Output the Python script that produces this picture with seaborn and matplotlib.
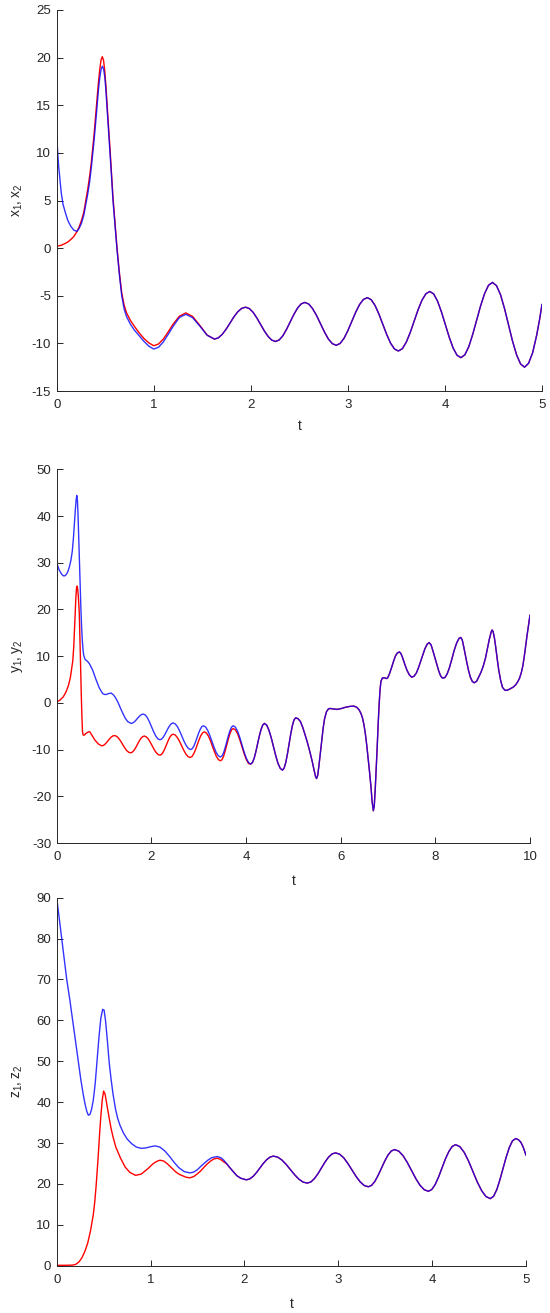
import matplotlib
matplotlib.use('Agg')
import matplotlib.pyplot as plt
import seaborn as sns

# ---- panel 1: x1 (red), x2 (blue) ----
t_x_early = [0, 0.01, 0.02, 0.035, 0.047, 0.065, 0.09, 0.115, 0.145, 0.175, 0.207, 0.23, 0.255, 0.28,
             0.3, 0.32, 0.34, 0.357, 0.372, 0.385, 0.395, 0.406, 0.417, 0.43, 0.445, 0.458, 0.47,
             0.483, 0.495, 0.506, 0.517, 0.533, 0.55, 0.565, 0.58, 0.6, 0.62, 0.645, 0.67, 0.695,
             0.72, 0.76, 0.8, 0.85, 0.9, 0.95, 1.0, 1.05, 1.1, 1.15, 1.2, 1.265, 1.33, 1.4, 1.48, 1.55]
x1_early = [0.2, 0.22, 0.25, 0.28, 0.3, 0.38, 0.5, 0.65, 0.9, 1.2, 1.7, 2.2, 2.9, 3.8,
            5.0, 6.2, 7.6, 9.0, 10.6, 11.9, 13.2, 14.5, 15.8, 17.4, 18.9, 19.8, 20.1,
            19.7, 18.6, 17.2, 15.4, 12.9, 10.3, 7.8, 5.3, 2.7, 0.2, -2.5, -4.7, -6.0,
            -6.8, -7.6, -8.2, -8.9, -9.5, -9.95, -10.25, -10.06, -9.53, -8.77, -7.97, -7.14, -6.8,
            -7.17, -8.18, -9.13]
x2_early = [12.0, 10.1, 8.6, 7.0, 5.8, 4.6, 3.7, 2.9, 2.3, 1.9, 1.75, 2.05, 2.6, 3.5,
            4.6, 5.7, 7.0, 8.5, 10.0, 11.3, 12.5, 13.7, 15.0, 16.6, 18.0, 18.8, 19.1,
            18.8, 18.0, 16.7, 15.0, 12.6, 10.0, 7.5, 5.0, 2.5, 0.0, -2.7, -5.0, -6.4,
            -7.2, -8.0, -8.6, -9.2, -9.8, -10.3, -10.6, -10.4, -9.83, -9.03, -8.2, -7.28, -6.95,
            -7.3, -8.25, -9.15]
t_x_shared = [1.625, 1.665, 1.705, 1.745, 1.785, 1.825, 1.865, 1.905, 1.945, 1.984, 2.023, 2.061,
              2.1, 2.139, 2.178, 2.216, 2.255, 2.293, 2.33, 2.368, 2.406, 2.443, 2.481, 2.518, 2.556,
              2.597, 2.637, 2.678, 2.718, 2.759, 2.799, 2.84, 2.88, 2.92, 2.96, 3.0, 3.04, 3.08,
              3.12, 3.16, 3.2, 3.24, 3.28, 3.32, 3.36, 3.4, 3.44, 3.48, 3.52, 3.561, 3.601, 3.642,
              3.682, 3.723, 3.763, 3.804, 3.844, 3.884, 3.924, 3.964, 4.004, 4.044, 4.084, 4.124,
              4.164, 4.205, 4.246, 4.286, 4.327, 4.368, 4.409, 4.449, 4.49, 4.531, 4.573, 4.614,
              4.655, 4.696, 4.738, 4.779, 4.82, 4.861, 4.903, 4.944, 4.975, 5.0]
x_shared = [-9.55, -9.42, -9.06, -8.52, -7.88, -7.23, -6.69, -6.33, -6.2, -6.34, -6.73, -7.31,
            -8.0, -8.69, -9.27, -9.66, -9.8, -9.64, -9.2, -8.53, -7.75, -6.97, -6.3, -5.86, -5.7,
            -5.87, -6.36, -7.09, -7.95, -8.81, -9.54, -10.03, -10.2, -10.01, -9.47, -8.66, -7.7, -6.74,
            -5.93, -5.39, -5.2, -5.41, -6.02, -6.93, -8.0, -9.07, -9.98, -10.59, -10.8, -10.56, -9.89, -8.87,
            -7.68, -6.48, -5.47, -4.79, -4.55, -4.81, -5.57, -6.7, -8.03, -9.35, -10.48, -11.24,
            -11.5, -11.2, -10.34, -9.06, -7.55, -6.04, -4.76, -3.9, -3.6, -3.94, -4.9, -6.35,
            -8.05, -9.75, -11.2, -12.16, -12.5, -12.1, -11.0, -9.2, -7.5, -5.9]

# ---- panel 2: y1 (red), y2 (blue) ----
t_y1_early = [0, 0.07, 0.14, 0.2, 0.25, 0.29, 0.32, 0.34, 0.36, 0.375, 0.39, 0.405, 0.418, 0.43,
              0.442, 0.455, 0.468, 0.478, 0.49, 0.5, 0.51, 0.52, 0.533, 0.545, 0.56, 0.585, 0.61,
              0.64, 0.67, 0.7, 0.75, 0.81, 0.88, 0.95,
              0.984, 1.018, 1.051, 1.085, 1.119, 1.153, 1.186, 1.22,
              1.263, 1.305, 1.348, 1.39, 1.433, 1.475, 1.518, 1.56,
              1.596, 1.633, 1.669, 1.705, 1.741, 1.778, 1.814, 1.85,
              1.891, 1.933, 1.974, 2.015, 2.056, 2.098, 2.139, 2.18,
              2.215, 2.25, 2.285, 2.32, 2.355, 2.39, 2.425, 2.46,
              2.505, 2.55, 2.595, 2.64, 2.685, 2.73, 2.775, 2.82,
              2.858, 2.895, 2.933, 2.97, 3.008, 3.045, 3.083, 3.12,
              3.163, 3.205, 3.248, 3.29, 3.333, 3.375, 3.418, 3.46,
              3.494, 3.528, 3.561, 3.595, 3.629, 3.663, 3.696, 3.73,
              3.776, 3.823, 3.869, 3.915, 3.961, 4.008, 4.054]
y1_early = [0.2, 0.6, 1.3, 2.4, 3.8, 5.5, 7.7, 9.0, 12.0, 15.5, 19.5, 22.5, 24.5, 25.0,
            24.5, 23.0, 21.0, 19.0, 14.5, 10.0, 5.5, 1.5, -3.0, -6.2, -6.9, -6.9, -6.6,
            -6.4, -6.2, -6.2, -7.0, -8.0, -8.8, -9.2,
            -9.12, -8.88, -8.52, -8.1, -7.68, -7.32, -7.08, -7.0,
            -7.14, -7.54, -8.14, -8.85, -9.56, -10.16, -10.56, -10.7,
            -10.56, -10.17, -9.59, -8.9, -8.21, -7.63, -7.24, -7.1,
            -7.26, -7.7, -8.37, -9.15, -9.93, -10.6, -11.04, -11.2,
            -11.03, -10.54, -9.81, -8.95, -8.09, -7.36, -6.87, -6.7,
            -6.89, -7.43, -8.24, -9.2, -10.16, -10.97, -11.51, -11.7,
            -11.49, -10.89, -10.0, -8.95, -7.9, -7.0, -6.41, -6.2,
            -6.44, -7.11, -8.11, -9.3, -10.49, -11.49, -12.16, -12.4,
            -12.14, -11.39, -10.27, -8.95, -7.63, -6.51, -5.76, -5.5,
            -5.8, -6.64, -7.91, -9.4, -10.89, -12.16, -13.0]
t_y2_early = [0, 0.05, 0.1, 0.14, 0.175, 0.21, 0.24, 0.27, 0.3, 0.33, 0.355, 0.375, 0.395, 0.412,
              0.425, 0.438, 0.45, 0.465, 0.48, 0.495, 0.51, 0.525, 0.54, 0.555, 0.57, 0.6, 0.65,
              0.69, 0.76, 0.83, 0.9, 0.97, 1.01, 1.05, 1.1, 1.15, 1.2, 1.25, 1.3, 1.35, 1.4, 1.45,
              1.5, 1.57,
              1.603, 1.635, 1.668, 1.7, 1.733, 1.765, 1.798, 1.83,
              1.874, 1.918, 1.961, 2.005, 2.049, 2.093, 2.136, 2.18,
              2.215, 2.25, 2.285, 2.32, 2.355, 2.39, 2.425, 2.46,
              2.506, 2.553, 2.599, 2.645, 2.691, 2.738, 2.784, 2.83,
              2.864, 2.898, 2.931, 2.965, 2.999, 3.033, 3.066, 3.1,
              3.145, 3.19, 3.235, 3.28, 3.325, 3.37, 3.415, 3.46,
              3.494, 3.528, 3.561, 3.595, 3.629, 3.663, 3.696, 3.73,
              3.776, 3.823, 3.869, 3.915, 3.961, 4.008, 4.054]
y2_early = [30.0, 28.5, 27.6, 27.2, 27.2, 27.6, 28.2, 29.2, 30.5, 32.5, 35.5, 38.5, 41.5, 43.6,
            44.4, 43.3, 40.5, 35.5, 30.0, 25.0, 20.5, 16.5, 13.5, 11.5, 10.2, 9.3, 8.9,
            8.4, 7.0, 5.0, 3.2, 2.0, 1.8, 1.8, 2.0, 2.1, 1.7, 1.0, 0.0, -1.2, -2.3, -3.3,
            -4.0, -4.4,
            -4.32, -4.11, -3.78, -3.4, -3.02, -2.69, -2.48, -2.4,
            -2.61, -3.21, -4.1, -5.15, -6.2, -7.09, -7.69, -7.9,
            -7.76, -7.37, -6.79, -6.1, -5.41, -4.83, -4.44, -4.3,
            -4.52, -5.13, -6.06, -7.15, -8.24, -9.17, -9.78, -10.0,
            -9.81, -9.25, -8.43, -7.45, -6.47, -5.65, -5.09, -4.9,
            -5.16, -5.88, -6.97, -8.25, -9.53, -10.62, -11.34, -11.6,
            -11.34, -10.62, -9.53, -8.25, -6.97, -5.88, -5.16, -4.9,
            -5.21, -6.1, -7.43, -9.0, -10.57, -11.9, -12.79]
t_y_shared = [4.1, 4.136, 4.173, 4.209, 4.245, 4.281, 4.318, 4.354, 4.39,
              4.438, 4.485, 4.533, 4.58, 4.628, 4.675, 4.723, 4.77,
              4.805, 4.84, 4.875, 4.91, 4.945, 4.98, 5.015, 5.05,
              5.1, 5.15, 5.2, 5.25, 5.3, 5.35, 5.4, 5.44, 5.47, 5.49, 5.515, 5.54, 5.57, 5.6, 5.63,
              5.66, 5.7, 5.74, 5.77, 5.85, 5.92, 6.0, 6.1, 6.2, 6.28, 6.34, 6.39, 6.43, 6.46, 6.49,
              6.52, 6.55, 6.58, 6.61, 6.64, 6.665, 6.69, 6.71, 6.73, 6.75, 6.77, 6.79, 6.81, 6.83,
              6.85, 6.88, 6.92, 6.96, 6.99, 7.03, 7.08, 7.12, 7.16, 7.2, 7.24, 7.27, 7.3, 7.33,
              7.36, 7.4, 7.45, 7.5, 7.55, 7.6, 7.65, 7.69, 7.74, 7.78, 7.83, 7.87, 7.91, 7.95,
              7.99, 8.03, 8.07, 8.11, 8.15, 8.2, 8.25, 8.3, 8.35, 8.4, 8.45, 8.5, 8.54, 8.57, 8.6,
              8.63, 8.66, 8.7, 8.74, 8.78, 8.82, 8.87, 8.92, 8.97, 9.01, 9.06, 9.1, 9.14, 9.18,
              9.2, 9.22, 9.25, 9.28, 9.31, 9.34, 9.38, 9.42, 9.47, 9.52, 9.58, 9.65, 9.7, 9.74,
              9.78, 9.82, 9.85, 9.88, 9.91, 9.94, 9.97, 10.0]
y_shared = [-13.1, -12.77, -11.83, -10.41, -8.75, -7.09, -5.67, -4.73, -4.4,
            -4.78, -5.86, -7.49, -9.4, -11.31, -12.94, -14.02, -14.4,
            -13.97, -12.76, -10.94, -8.8, -6.66, -4.84, -3.63, -3.2,
            -3.4, -4.0, -5.3, -6.9, -8.6, -10.5, -12.6, -14.5, -15.8, -16.2, -15.5, -13.5, -10.8, -8.0, -5.4,
            -3.4, -1.9, -1.3, -1.2, -1.3, -1.4, -1.25, -0.95, -0.75, -0.7, -0.95, -1.5, -2.3, -3.2, -4.6,
            -6.5, -9.0, -11.8, -14.8, -18.0, -21.2, -23.1, -22.0, -18.5, -14.2, -9.8, -5.0, -0.8, 2.6,
            4.6, 5.3, 5.4, 5.2, 5.3, 6.2, 7.7, 9.0, 10.1, 10.7, 10.9, 10.6, 9.9, 9.0,
            8.1, 7.0, 6.0, 5.5, 5.7, 6.4, 7.7, 8.9, 10.4, 11.6, 12.6, 12.9, 12.4, 11.1,
            9.7, 8.3, 6.9, 5.8, 5.3, 5.4, 6.2, 7.6, 9.4, 11.3, 12.8, 13.8, 14.0, 13.4, 12.0,
            10.4, 8.9, 7.0, 5.5, 4.6, 4.3, 4.6, 5.6, 6.7, 7.8, 9.6, 11.6, 13.6, 15.2,
            15.6, 15.3, 13.8, 11.6, 9.2, 7.0, 4.8, 3.3, 2.7, 2.7, 3.0, 3.4, 3.9, 4.5,
            5.3, 6.6, 8.0, 10.0, 12.3, 14.6, 16.7, 18.8]

# ---- panel 3: z1 (red), z2 (blue) ----
t_z1_early = [0, 0.1, 0.17, 0.2, 0.22, 0.24, 0.27, 0.3, 0.33, 0.36, 0.39, 0.405, 0.42, 0.44, 0.455,
              0.47, 0.485, 0.5, 0.515, 0.53, 0.545, 0.56, 0.58, 0.6, 0.63, 0.68, 0.73, 0.78, 0.84,
              0.9, 0.97, 1.03, 1.065, 1.1, 1.14, 1.18, 1.22, 1.27, 1.31, 1.35, 1.385, 1.42, 1.46,
              1.5, 1.535, 1.57, 1.605, 1.64, 1.675, 1.71, 1.745, 1.78, 1.81, 1.84, 1.88, 1.92, 1.96]
z1_early = [0.1, 0.1, 0.15, 0.3, 0.6, 1.0, 2.0, 3.5, 5.5, 8.5, 12.5, 15.5, 19.5, 26.0, 31.5,
            36.5, 40.5, 42.7, 42.0, 40.0, 38.0, 36.0, 33.5, 31.5, 29.0, 26.3, 24.1, 22.8, 22.1,
            22.4, 23.7, 25.0, 25.5, 25.8, 25.6, 24.9, 24.0, 22.9, 22.3, 21.9, 21.6, 21.5, 21.8,
            22.5, 23.2, 24.1, 24.9, 25.6, 26.1, 26.3, 26.0, 25.4, 24.9, 24.1, 23.0, 22.0, 21.4]
t_z2_early = [0, 0.027, 0.053, 0.08, 0.107, 0.14, 0.17, 0.2, 0.23, 0.257, 0.284, 0.305, 0.32, 0.337,
              0.355, 0.372, 0.39, 0.41, 0.43, 0.45, 0.47, 0.49, 0.505, 0.52, 0.54, 0.56, 0.58, 0.6,
              0.625, 0.65, 0.675, 0.71, 0.75, 0.8, 0.85, 0.9, 0.95, 1.0, 1.05, 1.1, 1.15, 1.2, 1.25,
              1.3, 1.36, 1.42, 1.46, 1.5, 1.54, 1.57, 1.61, 1.65, 1.71, 1.75, 1.78, 1.81, 1.84, 1.88,
              1.92, 1.96]
z2_early = [90.0, 85.0, 80.0, 75.0, 70.0, 65.0, 60.0, 55.0, 50.0, 45.5, 41.7, 39.2, 37.8, 36.8,
            37.0, 38.3, 40.5, 44.5, 50.0, 55.8, 60.5, 62.7, 62.5, 60.0, 55.0, 49.5, 45.5, 42.0,
            38.5, 36.0, 34.3, 32.5, 31.0, 29.8, 29.0, 28.7, 28.8, 29.1, 29.3, 29.0, 28.1, 26.8, 25.3,
            24.0, 23.0, 22.7, 22.9, 23.5, 24.4, 25.0, 25.8, 26.4, 26.7, 26.4, 25.8, 25.0, 24.1, 23.0,
            22.0, 21.4]
t_z_shared = [2.02, 2.056, 2.093, 2.129, 2.165, 2.201, 2.238, 2.274, 2.31,
              2.355, 2.4, 2.445, 2.49, 2.535, 2.58, 2.625, 2.67,
              2.708, 2.745, 2.783, 2.82, 2.858, 2.895, 2.933, 2.97,
              3.014, 3.058, 3.101, 3.145, 3.189, 3.233, 3.276, 3.32,
              3.355, 3.39, 3.425, 3.46, 3.495, 3.53, 3.565, 3.6,
              3.645, 3.69, 3.735, 3.78, 3.825, 3.87, 3.915, 3.96,
              3.996, 4.033, 4.069, 4.105, 4.141, 4.178, 4.214, 4.25,
              4.296, 4.343, 4.389, 4.435, 4.481, 4.528, 4.574, 4.62,
              4.654, 4.688, 4.721, 4.755, 4.789, 4.823, 4.856, 4.89,
              4.92, 4.945, 4.97, 5.0]
z_shared = [21.0, 21.22, 21.85, 22.79, 23.9, 25.01, 25.95, 26.58, 26.8,
            26.55, 25.83, 24.76, 23.5, 22.24, 21.17, 20.45, 20.2,
            20.48, 21.28, 22.48, 23.9, 25.32, 26.52, 27.32, 27.6,
            27.28, 26.38, 25.04, 23.45, 21.86, 20.51, 19.62, 19.3,
            19.65, 20.63, 22.11, 23.85, 25.59, 27.07, 28.05, 28.4,
            28.01, 26.91, 25.25, 23.3, 21.35, 19.69, 18.59, 18.2,
            18.63, 19.87, 21.72, 23.9, 26.08, 27.93, 29.17, 29.6,
            29.1, 27.67, 25.53, 23.0, 20.47, 18.33, 16.9, 16.4,
            16.96, 18.55, 20.94, 23.75, 26.56, 28.95, 30.54, 31.1,
            30.8, 30.2, 29.0, 27.0]

x_ticks_1 = [0, 1, 2, 3, 4, 5]
y_ticks_1 = [-15, -10, -5, 0, 5, 10, 15, 20, 25]
x_ticks_2 = [0, 2, 4, 6, 8, 10]
y_ticks_2 = [-30, -20, -10, 0, 10, 20, 30, 40, 50]
x_ticks_3 = [0, 1, 2, 3, 4, 5]
y_ticks_3 = [0, 10, 20, 30, 40, 50, 60, 70, 80, 90]

sns.set_theme(style='white')
plt.rcParams['font.family'] = ['Liberation Sans', 'DejaVu Sans']
plt.rcParams['mathtext.fontset'] = 'custom'
plt.rcParams['mathtext.rm'] = 'Liberation Sans'
plt.rcParams['mathtext.it'] = 'Liberation Sans'

axis_col = '#262626'
fig = plt.figure(figsize=(5.5, 13.13), dpi=100)

W, H = 550, 1313
left_px = 56.7
panels = [
    # left, right, top, bottom (pixels), gap to the "t" label
    (left_px, 542, 10, 391, 28),
    (left_px, 530, 469.3, 843, 31),
    (left_px, 526, 897.7, 1265.7, 31),
]

axes = []
for (l, r, tp, bt, g) in panels:
    ax = fig.add_axes([l / W, 1 - bt / H, (r - l) / W, (bt - tp) / H])
    axes.append(ax)

series = [
    (axes[0], t_x_early + t_x_shared, x1_early + x_shared,
     t_x_early + t_x_shared, x2_early + x_shared,
     (0, 5), (-15, 25), x_ticks_1, y_ticks_1, r'$\mathregular{x_1, x_2}$'),
    (axes[1], t_y1_early + t_y_shared, y1_early + y_shared,
     t_y2_early + t_y_shared, y2_early + y_shared,
     (0, 10), (-30, 50), x_ticks_2, y_ticks_2, r'$\mathregular{y_1, y_2}$'),
    (axes[2], t_z1_early + t_z_shared, z1_early + z_shared,
     t_z2_early + t_z_shared, z2_early + z_shared,
     (0, 5), (0, 90), x_ticks_3, y_ticks_3, r'$\mathregular{z_1, z_2}$'),
]

for (ax, tr, vr, tb, vb, xl, yl, xt, yt, lab), (l, r, tp, bt, g) in zip(series, panels):
    sns.lineplot(x=tr, y=vr, color='#ff0000', linewidth=1.0, ax=ax, sort=False)
    sns.lineplot(x=tb, y=vb, color='#0000ff', linewidth=1.0, alpha=0.8, ax=ax, sort=False)
    ax.set_xlim(*xl)
    ax.set_ylim(*yl)
    ax.set_xticks(xt)
    ax.set_yticks(yt)
    ax.set_xticklabels([str(v) for v in xt])
    ax.set_yticklabels([str(v) for v in yt])
    sns.despine(ax=ax)
    for s in ['left', 'bottom']:
        ax.spines[s].set_color(axis_col)
        ax.spines[s].set_linewidth(0.7)
    ax.tick_params(bottom=True, left=True, direction='in', length=4, width=0.7,
                   colors=axis_col, labelsize=9.5, labelcolor=axis_col)
    ax.tick_params(axis='x', pad=6)
    ax.tick_params(axis='y', pad=4)
    ax.set_xlabel('t', fontsize=10, color=axis_col)
    ax.set_ylabel(lab, fontsize=10, color=axis_col)
    wpx = r - l
    hpx = bt - tp
    ax.yaxis.set_label_coords((25 - l) / wpx, 0.5)
    ax.xaxis.set_label_coords(0.5, -g / hpx)
    ax.grid(False)

fig.savefig('out.png', dpi=100)
